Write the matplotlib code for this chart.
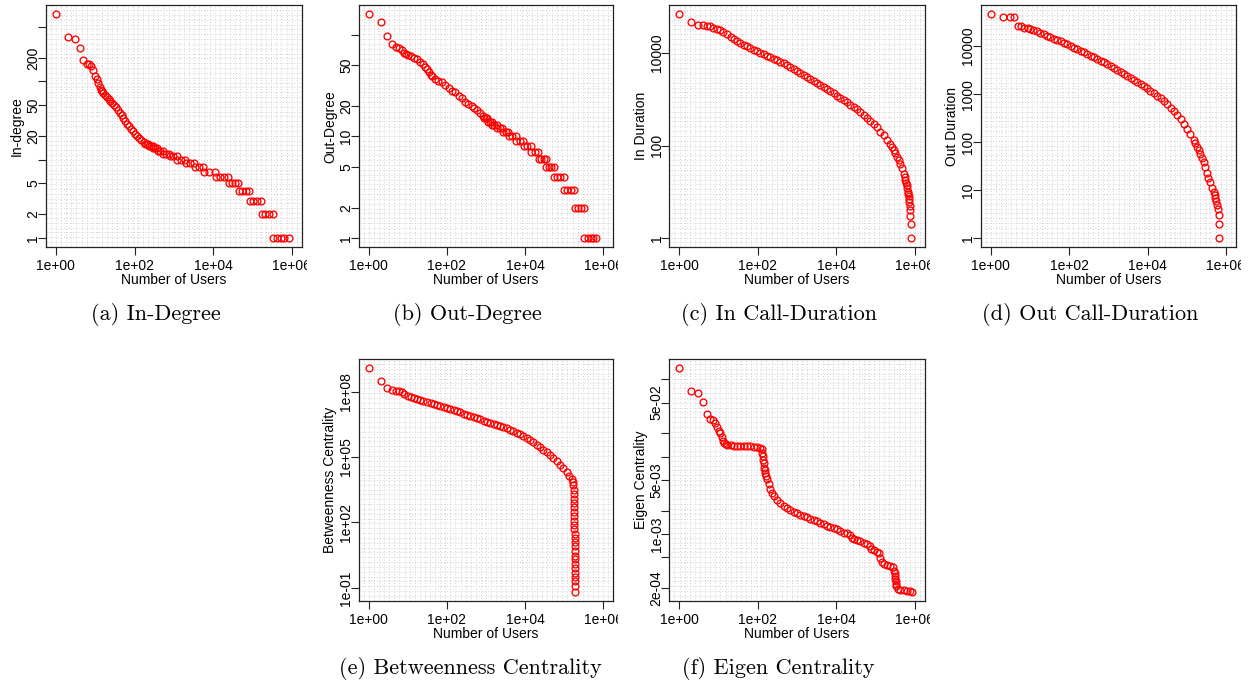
import numpy as np
import matplotlib.pyplot as plt
from matplotlib.collections import LineCollection
from matplotlib.ticker import NullLocator
from matplotlib.transforms import Bbox, TransformedBbox

# rank-ordered values (rank = position of user)
# (a) in-degree
in_deg_rank = [1, 2, 3, 4, 5, 6, 7, 8, 9, 10, 11, 12, 13, 14, 15, 16, 18, 20, 22, 24,
               27, 30, 33, 37, 42, 47, 52, 58, 65, 72, 80, 90, 100, 115, 130, 150, 170,
               185, 205, 225, 235, 260, 290, 300, 340, 381, 395, 450, 520, 540, 640, 769,
               800, 950, 1180, 1220, 1500, 1930, 2000, 2550, 3270, 3400, 4400, 5650,
               5900, 8000, 11000, 11500, 14500, 19000, 24500, 25500, 31000, 37000, 44000,
               45500, 55000, 68000, 84000, 86000, 105000, 130000, 166000,
               170000, 210000, 265000, 330000, 340000, 420000, 520000, 650000, 826000]
in_deg = [720, 370, 350, 270, 185, 168, 166, 158, 140, 118, 106, 95, 84, 78, 75, 72, 67, 64, 60, 57,
          53, 50, 47, 43, 40, 37, 34, 31, 29, 27, 25, 23, 21, 20, 19, 18, 17,
          16, 16, 16, 15, 15, 15, 14, 14, 14, 13, 13, 13, 12, 12, 12,
          11, 11, 11, 10, 10, 10, 9, 9, 9, 8, 8, 8,
          7, 7, 7, 6, 6, 6, 6, 5, 5, 5, 5,
          4, 4, 4, 4, 3, 3, 3, 3,
          2, 2, 2, 2, 1, 1, 1, 1, 1]

# (b) out-degree
out_deg_rank = [1, 2, 3, 4, 5, 6, 7, 8, 9, 10, 12, 14, 17, 21, 25, 28, 31, 34, 38, 42,
                50, 60, 75, 90, 110, 135, 160, 200, 240, 290, 356, 433, 500, 580, 700, 860,
                900, 1000, 1090, 1150, 1280, 1400, 1450, 1650, 1880, 1950, 2250, 2620,
                2700, 3200, 3730, 3850, 4700, 5850, 6000, 7300, 9000, 9300, 11300, 13800,
                14200, 17500, 21700, 22300, 26000, 30000, 34000, 35000, 41000, 47000, 54500,
                56000, 66000, 80000, 98000, 100000, 120000, 150000, 180000,
                185000, 225000, 270000, 324000, 330000, 400000, 480000, 560000, 640000]
out_deg = [158, 132, 96, 80, 76, 74, 71, 66, 64, 63, 61, 59, 57, 54, 51, 48, 46, 43, 40, 39,
           37, 35, 34, 32, 30, 28, 27, 25, 24, 22, 21, 20, 19, 18, 17, 16,
           15, 15, 15, 14, 14, 14, 13, 13, 13, 12, 12, 12,
           11, 11, 11, 10, 10, 10, 9, 9, 9, 8, 8, 8,
           7, 7, 7, 6, 6, 6, 6, 5, 5, 5, 5,
           4, 4, 4, 4, 3, 3, 3, 3,
           2, 2, 2, 2, 1, 1, 1, 1, 1]

# (c) in call-duration
in_dur_rank = [1, 2, 3, 4, 5, 6, 7, 9, 11, 13, 16, 20, 24, 29, 35, 43, 52, 64, 78, 94,
               115, 140, 170, 206, 251, 305, 372, 452, 550, 669, 814, 990, 1205, 1466, 1783,
               2170, 2640, 3210, 3900, 4750, 5780, 7030, 8550, 10400, 12650, 15400, 18700,
               22800, 27700, 33700, 41000, 49900, 60700, 73800, 89800, 109000, 133000,
               162000, 197000, 239000, 265000, 291000, 320000, 354000, 390000, 430000,
               475000, 524000, 550000, 578000, 600000, 620000, 640000, 660000, 680000,
               700000, 715000, 730000, 745000, 760000, 775000, 790000, 800000]
in_dur = [68500, 47600, 40300, 40000, 39000, 37700, 35300, 33600, 32000, 28500, 25300, 22600,
          20400, 18200, 16400, 15100, 13900, 12800, 11800, 11000, 10200, 9500, 8750, 8200,
          7550, 7060, 6500, 5980, 5500, 4980, 4580, 4150, 3760, 3400, 3080, 2790, 2520, 2280,
          2070, 1870, 1670, 1510, 1340, 1200, 1060, 964, 858, 764, 680, 605, 530, 464, 400,
          344, 296, 247, 202, 166, 134, 108, 94, 81, 68, 58, 48, 40, 33, 25, 21, 18, 16, 14,
          12, 10, 9, 8, 7, 6, 5, 4, 3, 2, 1]

# (d) out call-duration
out_dur_rank = [1, 2, 3, 4, 5, 6, 7, 9, 10, 12, 15, 18, 23, 27, 33, 41, 49, 60, 73, 89,
                108, 132, 160, 195, 237, 288, 351, 426, 519, 631, 767, 933, 1135, 1380, 1680,
                2045, 2490, 3030, 3680, 4480, 5450, 6630, 8060, 9800, 11900, 14500, 17700,
                21500, 26100, 31800, 38700, 47000, 57200, 69600, 84700, 103000, 125000,
                152000, 168000, 185000, 205000, 225000, 250000, 274000, 300000, 333000,
                360000, 390000, 448000, 494000, 520000, 545000, 575000, 608000, 630000,
                660000, 676000, 680000]
out_dur = [45700, 40200, 40200, 40200, 26500, 25700, 24100, 23500, 22600, 22000, 20200, 18700,
           17500, 16400, 15400, 14200, 13300, 12500, 11550, 10800, 10000, 9230, 8660, 8000,
           7380, 6810, 6290, 5800, 5360, 4950, 4570, 4150, 3770, 3480, 3160, 2920, 2650, 2410,
           2190, 1990, 1810, 1640, 1470, 1310, 1170, 1050, 923, 812, 703, 609, 519, 435, 365,
           301, 241, 190, 147, 112, 95, 81, 68, 57, 46, 38, 30, 23, 18, 15, 11, 9, 8, 7, 6,
           5, 4, 3, 2, 1]

# (e) betweenness centrality
betw_rank = [1, 2, 3, 4, 5, 6, 7, 8, 10, 12, 14, 17, 21, 25, 31, 38, 46, 56, 68, 82,
             100, 122, 148, 180, 219, 266, 324, 394, 480, 584, 710, 864, 1050, 1280, 1560,
             1890, 2300, 2800, 3410, 4150, 5050, 6150, 7480, 9100, 11100, 13500, 16400,
             19900, 24300, 29500, 35900, 43700, 53200, 64700, 78800, 95900, 117000, 136000,
             155000, 171000, 174000, 176000, 178000, 179000, 180000, 181000, 182000, 183000,
             183500, 184000, 184500, 185000, 185500, 186000, 186500, 187000, 187500, 188000,
             188500, 189000, 189200, 189400, 189600, 189800, 190000]
betw = [1.18e9, 3.0e8, 1.42e8, 1.19e8, 1.11e8, 1.07e8, 1.0e8, 7.5e7, 6.3e7, 5.7e7, 5.1e7,
        4.6e7, 4.15e7, 3.7e7, 3.5e7, 3.1e7, 2.8e7, 2.5e7, 2.28e7, 2.05e7, 1.85e7, 1.66e7,
        1.44e7, 1.25e7, 1.12e7, 9.8e6, 8.8e6, 7.6e6, 6.9e6, 6.0e6, 5.4e6, 4.7e6, 4.05e6,
        3.5e6, 3.2e6, 2.85e6, 2.56e6, 2.3e6, 2.07e6, 1.8e6, 1.56e6, 1.31e6, 1.1e6, 9.2e5,
        7.5e5, 6.0e5, 4.7e5, 3.7e5, 2.9e5, 2.2e5, 1.64e5, 1.2e5, 8.7e4, 6.4e4, 4.5e4, 3.0e4,
        2.05e4, 1.34e4, 9.4e3, 7.4e3, 5000, 3000, 2000, 1200, 800, 500, 300, 200, 120, 80,
        50, 30, 20, 12, 8, 5, 3, 2, 1.2, 0.8, 0.5, 0.3, 0.2, 0.12, 0.066]

# (f) eigen centrality
eig_rank = [1, 2, 3, 4, 5, 6, 7, 8, 9, 10, 11, 12, 13, 14, 15, 16, 20, 24, 29, 35, 43, 52,
            64, 78, 94, 115, 127, 130, 134, 138, 140, 145, 150, 154, 162, 170, 186, 206,
            228, 251, 305, 372, 452, 550, 669, 814, 990, 1205, 1466, 1783, 2170, 2640, 3210,
            3900, 4750, 5780, 7030, 8550, 10400, 12650, 15400, 18700, 22800, 25200, 27700,
            33700, 41000, 49900, 60700, 71000, 78000, 89800, 109000, 123000, 133000, 146000,
            162000, 197000, 239000, 279000, 300000, 305000, 310000, 318000, 325000, 331000,
            337000, 366000, 430000, 524000, 636000, 775000, 850000]
eig = [0.139, 0.0706, 0.0665, 0.0514, 0.036, 0.031, 0.0298, 0.027, 0.0244, 0.0215, 0.020,
       0.0182, 0.016, 0.015, 0.0144, 0.01416, 0.0140, 0.01387, 0.01387, 0.01374, 0.0137,
       0.0136, 0.0136, 0.01346, 0.0133, 0.01306, 0.01244, 0.0113, 0.0102, 0.0092, 0.00836,
       0.00721, 0.0067, 0.0062, 0.0056, 0.00509, 0.00439, 0.00378, 0.00336, 0.0031, 0.00275,
       0.00249, 0.0023, 0.00217, 0.00204, 0.00194, 0.00185, 0.00178, 0.00171, 0.00164,
       0.00158, 0.00152, 0.00146, 0.0014, 0.00135, 0.00129, 0.00124, 0.0012, 0.00115,
       0.00109, 0.00104, 0.00102, 0.00098, 0.000897, 0.000871, 0.000836, 0.000803, 0.000772,
       0.000742, 0.0007, 0.000646, 0.000615, 0.000591, 0.000563, 0.000494, 0.000434,
       0.000405, 0.000394, 0.000386, 0.000378, 0.000333, 0.00031, 0.000286, 0.000266,
       0.000247, 0.00023, 0.000213, 0.000196, 0.000191, 0.000187, 0.000185, 0.000182, 0.00018]

x_ticks = [1, 1e2, 1e4, 1e6]
x_tick_labels = ['1e+00', '1e+02', '1e+04', '1e+06']

W, H = 1252, 682
AX_FONT = 'Liberation Sans'
CAP_FONT = 'cmr10'


def r_lim(v):
    # R's default 4% range expansion, on the log scale
    lo, hi = np.log10(min(v)), np.log10(max(v))
    d = 0.04 * (hi - lo)
    return 10 ** (lo - d), 10 ** (hi + d)


panels = [
    dict(box=(45.7, 5.3, 302.0, 247.0), x=in_deg_rank, y=in_deg, ylab='In-degree',
         yt=[1, 2, 5, 10, 20, 50, 100, 200, 500], ytl=['1', '2', '5', '', '20', '50', '', '200', ''],
         cap='(a) In-Degree', cap_xy=(156, 314)),
    dict(box=(358.7, 5.3, 613.3, 247.3), x=out_deg_rank, y=out_deg, ylab='Out-Degree',
         yt=[1, 2, 5, 10, 20, 50, 100], ytl=['1', '2', '5', '10', '20', '50', ''],
         cap='(b) Out-Degree', cap_xy=(467, 314)),
    dict(box=(669.3, 5.3, 925.0, 247.3), x=in_dur_rank, y=in_dur, ylab='In Duration',
         yt=[1, 100, 10000], ytl=['1', '100', '10000'],
         cap='(c) In Call-Duration', cap_xy=(779, 314)),
    dict(box=(980.7, 5.3, 1236.0, 247.3), x=out_dur_rank, y=out_dur, ylab='Out Duration',
         yt=[1, 10, 100, 1000, 10000], ytl=['1', '10', '100', '1000', '10000'],
         cap='(d) Out Call-Duration', cap_xy=(1090, 314)),
    dict(box=(358.7, 359.3, 613.3, 600.7), x=betw_rank, y=betw, ylab='Betweenness Centrality',
         yt=[1e-1, 1e2, 1e5, 1e8], ytl=['1e-01', '1e+02', '1e+05', '1e+08'],
         cap='(e) Betweenness Centrality', cap_xy=(470, 668)),
    dict(box=(669.3, 359.3, 925.0, 600.7), x=eig_rank, y=eig, ylab='Eigen Centrality',
         yt=[2e-4, 5e-4, 1e-3, 2e-3, 5e-3, 1e-2, 2e-2, 5e-2, 1e-1],
         ytl=['2e-04', '', '1e-03', '', '5e-03', '', '', '5e-02', ''],
         cap='(f) Eigen Centrality', cap_xy=(778, 668)),
]

fig = plt.figure(figsize=(W / 100, H / 100), dpi=100)

for p in panels:
    l, t, r, b = p['box']
    bw, bh = r - l, b - t
    ax = fig.add_axes([l / W, 1 - b / H, bw / W, bh / H])
    ax.set_xscale('log')
    ax.set_yscale('log')
    ax.set_xlim(10 ** -0.26, 10 ** 6.26)
    ax.set_ylim(*r_lim(p['y']))

    # fine dotted grid, 50 cells each way
    fr = np.linspace(0, 1, 51)[1:-1]
    segs = [[(f, 0), (f, 1)] for f in fr] + [[(0, f), (1, f)] for f in fr]
    ax.add_collection(LineCollection(segs, transform=ax.transAxes, colors='#cfcfcf',
                                     linewidths=0.7, linestyles=(0, (1, 2)), zorder=0))

    ax.plot(p['x'], p['y'], 'o', mfc='none', mec='#ff0000', ms=4.9, mew=0.95, zorder=2)

    ax.xaxis.set_minor_locator(NullLocator())
    ax.yaxis.set_minor_locator(NullLocator())
    ax.set_xticks(x_ticks)
    ax.set_xticklabels(x_tick_labels, fontsize=10, family=AX_FONT)
    ax.set_yticks(p['yt'])
    ax.set_yticklabels(p['ytl'], fontsize=10, family=AX_FONT, rotation=90,
                       ha='center', va='center')
    ax.tick_params(axis='both', length=5.5, width=0.8, color='#222222')
    ax.tick_params(axis='x', pad=3.2)
    ax.tick_params(axis='y', pad=3.6)
    for s in ax.spines.values():
        s.set_linewidth(0.9)
        s.set_color('#222222')

    # the last tick label is cut at the sub-figure edge
    last = ax.get_xticklabels()[-1]
    last.set_clip_box(TransformedBbox(Bbox.from_extents(0, 0, (r + 5) / W, 1), fig.transFigure))
    last.set_clip_on(True)

    ax.set_xlabel('Number of Users', fontsize=10, family=AX_FONT)
    ax.xaxis.set_label_coords(0.5, -25.8 / bh)
    ax.set_ylabel(p['ylab'], fontsize=10, family=AX_FONT)
    ax.yaxis.set_label_coords(-21.5 / bw, 0.5)

    cx, cy = p['cap_xy']
    fig.text(cx / W, 1 - cy / H, p['cap'], ha='center', va='center',
             family=CAP_FONT, fontsize=16)

fig.savefig('out.png', dpi=100)
